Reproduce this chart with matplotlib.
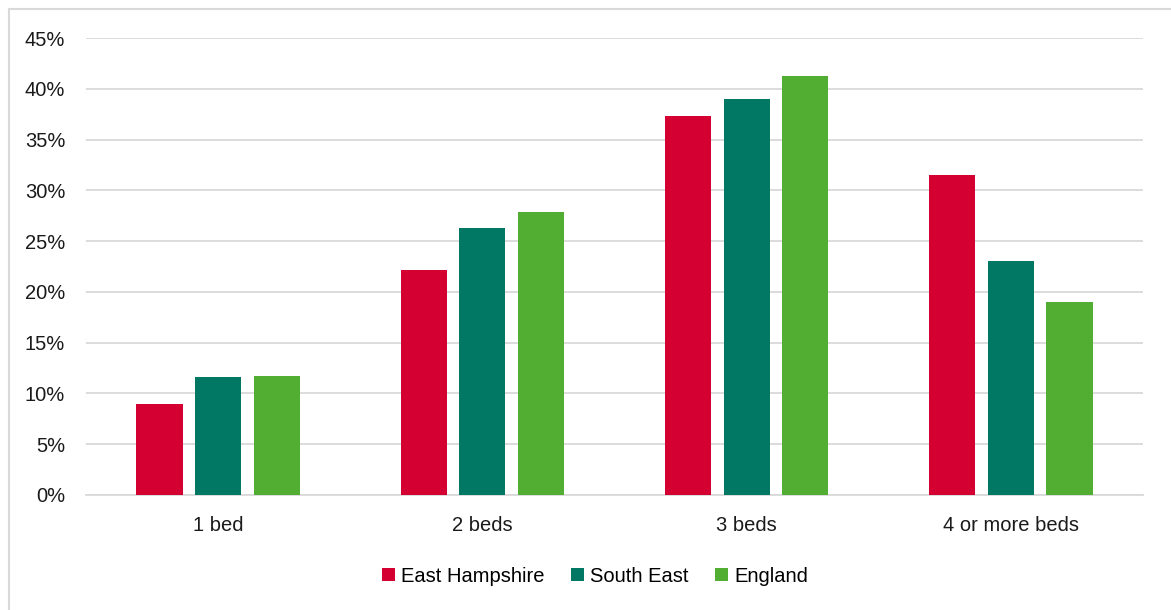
import matplotlib.pyplot as plt
import numpy as np
from matplotlib.patches import Rectangle

plt.rcParams['font.family'] = ['Liberation Sans', 'DejaVu Sans']

categories = ['1 bed', '2 beds', '3 beds', '4 or more beds']
east_hampshire = [9.0, 22.2, 37.3, 31.5]
south_east = [11.6, 26.3, 39.0, 23.0]
england = [11.7, 27.9, 41.3, 19.0]

series = [('East Hampshire', east_hampshire, '#D50032'),
          ('South East', south_east, '#007864'),
          ('England', england, '#52AE32')]

fig = plt.figure(figsize=(11.71, 6.10), dpi=100)
ax = fig.add_axes([86 / 1171, 1 - 495 / 610, 1057 / 1171, 457 / 610])

x = np.arange(len(categories))
width = 0.175
step = 0.222
for i, (name, vals, color) in enumerate(series):
    ax.bar(x + (i - 1) * step, vals, width, color=color, label=name, zorder=3)

ax.set_xlim(-0.5, len(categories) - 0.5)
ax.set_ylim(0, 45)
ax.set_yticks(np.arange(0, 46, 5))
ax.set_yticklabels([f'{v}%' for v in range(0, 46, 5)])
ax.set_xticks(x)
ax.set_xticklabels(categories)
ax.yaxis.grid(True, color='#D9D9D9', linewidth=1.3, zorder=0)
ax.tick_params(axis='both', length=0, labelsize=14.5, colors='#1a1a1a')
ax.tick_params(axis='y', pad=15)
ax.tick_params(axis='x', pad=15)
for side in ['top', 'right', 'left']:
    ax.spines[side].set_visible(False)
ax.spines['bottom'].set_color('#D9D9D9')
ax.spines['bottom'].set_linewidth(1.3)

ax.legend(loc='center', bbox_to_anchor=(595 / 1171, 1 - 576 / 610),
          bbox_transform=fig.transFigure, ncol=3, frameon=False,
          fontsize=14.5, handlelength=0.65, handleheight=0.65,
          handletextpad=0.3, columnspacing=1.3)

# light border around the chart
fig.patches.append(Rectangle((9 / 1171, -0.1), 1.2, 1 - 9 / 610 + 0.1,
                             transform=fig.transFigure, fill=False,
                             edgecolor='#D9D9D9', linewidth=1.5))

fig.savefig('out.png', dpi=100)
